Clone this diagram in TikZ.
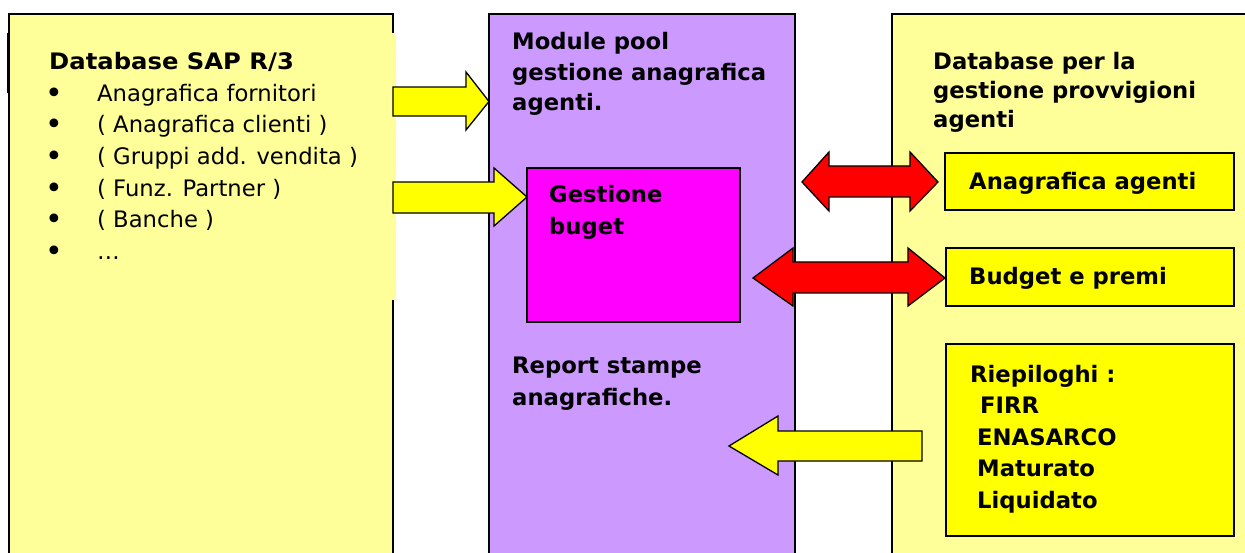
\documentclass[tikz,border=0pt]{standalone}
\usepackage{fontspec}
\setmainfont{DejaVu Sans}
\definecolor{paleyellow}{HTML}{FFFF99}
\definecolor{lilac}{HTML}{CC99FF}
\definecolor{magentabox}{HTML}{FF00FF}
\definecolor{brightyellow}{HTML}{FFFF00}
\definecolor{brightred}{HTML}{FF0000}
\begin{document}
\begin{tikzpicture}[x=1pt,y=-1pt,
  box/.style={draw=black, line width=1.2pt},
  blockarrow/.style={draw=black, line width=1.3pt, line join=miter},
  txt/.style={anchor=base west, inner sep=0pt, font=\fontsize{22.7}{27}\selectfont},
  bullet/.style={anchor=base, inner sep=0pt, font=\fontsize{30}{34}\selectfont},
  btxt/.style={anchor=base west, inner sep=0pt, font=\fontsize{22.7}{27}\selectfont\bfseries},
  wbtxt/.style={btxt, xscale=1.07}]
\useasboundingbox (0,0) rectangle (1245,553);
\clip (0,0) rectangle (1245,553);
% main boxes
\fill[white] (0,0) rectangle (1245,553);
\draw[box, fill=paleyellow] (9,14) rectangle (393,600);
\fill[paleyellow] (10,33) rectangle (396,300);
\draw[line width=2.5pt] (8,33) -- (8,93);
\draw[box, fill=lilac] (489,14) rectangle (795,600);
\draw[box, fill=paleyellow] (892,14) rectangle (1260,600);
% inner boxes
\draw[box, fill=magentabox] (527,168) rectangle (740,322);
\draw[box, fill=brightyellow] (945,153) rectangle (1234,210);
\draw[box, fill=brightyellow] (946,248) rectangle (1234,306);
\draw[box, fill=brightyellow] (946,344) rectangle (1234,536);
% left texts
\node[wbtxt] (sapT) at (49,70) {Database SAP R/3};
\node[bullet] (bul1) at (54,104) {•};
\node[bullet] (bul2) at (54,135) {•};
\node[bullet] (bul3) at (54,167) {•};
\node[bullet] (bul4) at (54,199) {•};
\node[bullet] (bul5) at (54,230) {•};
\node[bullet] (bul6) at (54,262) {•};
\node[txt] (item1) at (97,102) {Anagrafica fornitori};
\node[txt] (item2) at (97,133) {( Anagrafica clienti )};
\node[txt] (item3) at (97,165) {( Gruppi add. vendita )};
\node[txt] (item4) at (97,197) {( Funz. Partner )};
\node[txt] (item5) at (97,228) {( Banche )};
\node[txt] (item6) at (97,260) {…};
% middle texts
\node[btxt] (mp1) at (512,50) {Module pool};
\node[btxt] (mp2) at (512,81) {gestione anagrafica};
\node[btxt] (mp3) at (512,111) {agenti.};
\node[btxt] (gb1) at (549,203) {Gestione};
\node[btxt] (gb2) at (549,235) {buget};
\node[btxt] (rs1) at (512,373) {Report stampe};
\node[btxt] (rs2) at (512,405) {anagrafiche.};
% right texts
\node[btxt] (db1) at (933,70) {Database per la};
\node[btxt] (db2) at (933,99) {gestione provvigioni};
\node[btxt] (db3) at (933,128) {agenti};
\node[btxt] (aa) at (969,190) {Anagrafica agenti};
\node[btxt] (bp) at (969,285) {Budget e premi};
\node[btxt] (r1) at (970,382) {Riepiloghi :};
\node[btxt] (r2) at (980,413) {FIRR};
\node[btxt] (r3) at (977,445) {ENASARCO};
\node[btxt] (r4) at (977,476) {Maturato};
\node[btxt] (r5) at (977,508) {Liquidato};
% block arrows
\draw[blockarrow, fill=brightyellow] (393,87) -- (466,87) -- (466,72) -- (489,101.5) -- (466,130) -- (466,116) -- (393,116) -- cycle;
\draw[blockarrow, fill=brightyellow] (393,182) -- (494,182) -- (494,168) -- (527,197) -- (494,226) -- (494,213) -- (393,213) -- cycle;
\draw[blockarrow, fill=brightred] (802,182) -- (829,152) -- (829,166) -- (910,166) -- (910,152) -- (938,182) -- (910,211) -- (910,197) -- (829,197) -- (829,211) -- cycle;
\draw[blockarrow, fill=brightred] (753,278) -- (793,248) -- (793,262) -- (908,262) -- (908,248) -- (945,278) -- (908,306) -- (908,293) -- (793,293) -- (793,306) -- cycle;
\draw[blockarrow, fill=brightyellow] (729,446) -- (778,416) -- (778,431) -- (922,431) -- (922,461) -- (778,461) -- (778,475) -- cycle;
\end{tikzpicture}
\end{document}
